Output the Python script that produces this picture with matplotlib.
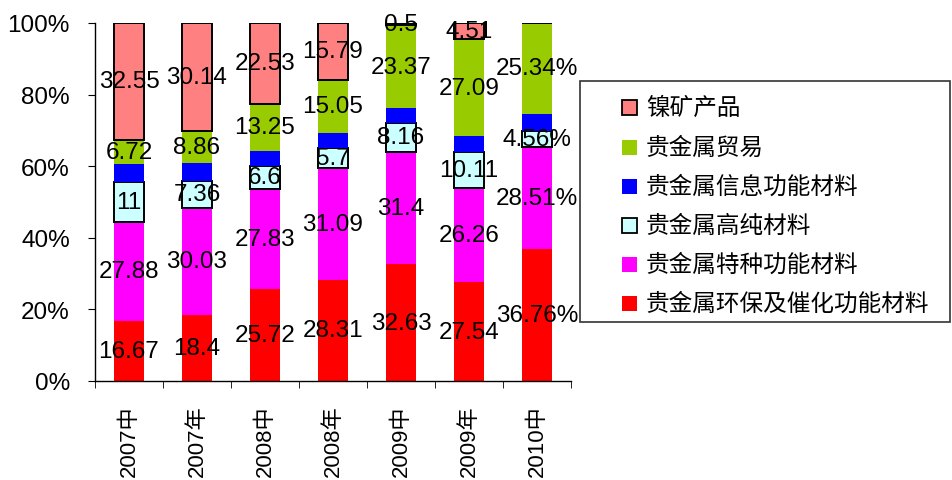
import matplotlib
matplotlib.use("Agg")
import matplotlib.pyplot as plt
from matplotlib.patches import Rectangle
import numpy as np

plt.rcParams['font.family'] = ['Liberation Sans', 'Noto Sans CJK SC', 'DejaVu Sans']

categories = ["2007中", "2007年", "2008中", "2008年", "2009中", "2009年", "2010中"]

# stacking order: bottom -> top
s_huanbao = [16.67, 18.4, 25.72, 28.31, 32.63, 27.54, 36.76]
s_tezhong = [27.88, 30.03, 27.83, 31.09, 31.4, 26.26, 28.51]
s_gaochun = [11, 7.36, 6.6, 5.7, 8.16, 10.11, 4.56]
s_xinxi = [5.18, 5.21, 4.07, 4.06, 3.94, 4.49, 4.83]   # unlabeled, read as remainder
s_maoyi = [6.72, 8.86, 13.25, 15.05, 23.37, 27.09, 25.34]
s_niekuang = [32.55, 30.14, 22.53, 15.79, 0.5, 4.51, 0.0]

series = [
    ("贵金属环保及催化功能材料", s_huanbao, "#FF0000", False, True),
    ("贵金属特种功能材料", s_tezhong, "#FF00FF", False, True),
    ("贵金属高纯材料", s_gaochun, "#CCFFFF", True, True),
    ("贵金属信息功能材料", s_xinxi, "#0000FF", False, False),
    ("贵金属贸易", s_maoyi, "#99CC00", False, True),
    ("镍矿产品", s_niekuang, "#FF8080", True, True),
]

yticks = [0, 20, 40, 60, 80, 100]
ytick_labels = ["0%", "20%", "40%", "60%", "80%", "100%"]

W, H = 953, 481
fig = plt.figure(figsize=(W / 100, H / 100), dpi=100)
ax = fig.add_axes([95 / W, 1 - 382 / H, (571 - 95) / W, (382 - 24) / H])

x = np.arange(len(categories))
totals = np.sum([s[1] for s in series], axis=0)
bottom = np.zeros(len(categories))
for name, vals, color, edged, labeled in series:
    v = np.array(vals, dtype=float) / totals * 100
    ax.bar(x, v, bottom=bottom, width=0.44, color=color,
           edgecolor="black" if edged else color,
           linewidth=1.4 if edged else 0, zorder=2)
    if labeled:
        for i, (raw, h, b) in enumerate(zip(vals, v, bottom)):
            if raw <= 0:
                continue
            txt = f"{raw:g}"
            if categories[i] == "2010中":
                txt = f"{raw:.2f}%"
            ax.text(x[i], b + h / 2, txt, ha="center", va="center",
                    fontsize=17.5, color="black", zorder=5)
    bottom += v

ax.set_xlim(-0.5, len(categories) - 0.5)
ax.set_ylim(0, 100)
ax.set_yticks(yticks)
ax.set_yticklabels(ytick_labels, fontsize=17.5)
ax.set_xticks(x)
ax.set_xticklabels(categories, rotation=90, fontsize=16)
ax.set_xticks(np.arange(-0.5, len(categories), 1), minor=True)
ax.tick_params(axis="x", which="major", length=0, pad=17)
ax.tick_params(axis="x", which="minor", length=5, direction="out", color="black")
ax.tick_params(axis="y", length=5, direction="out", pad=13, color="black")
for sp in ["top", "right"]:
    ax.spines[sp].set_visible(False)
for sp in ["left", "bottom"]:
    ax.spines[sp].set_color("black")
    ax.spines[sp].set_linewidth(1.0)

# legend (manual, Excel-like)
lx0, ly0, lx1, ly1 = 580, 82, 950, 323
fig.patches.append(Rectangle((lx0 / W, 1 - ly1 / H), (lx1 - lx0) / W, (ly1 - ly0) / H,
                             transform=fig.transFigure, facecolor="white",
                             edgecolor="#333333", linewidth=1.2))
ys = [108, 148, 187, 226, 265, 304]
for (name, vals, color, edged, labeled), yy in zip(series[::-1], ys):
    fig.patches.append(Rectangle((622 / W, 1 - (yy + 8) / H), 15 / W, 15 / H,
                                 transform=fig.transFigure, facecolor=color,
                                 edgecolor="black" if edged else color,
                                 linewidth=1.3 if edged else 0))
    fig.text(646 / W, 1 - yy / H, name, ha="left", va="center", fontsize=17,
             family=["Noto Sans CJK SC", "DejaVu Sans"])

fig.savefig("out.png", dpi=100)
